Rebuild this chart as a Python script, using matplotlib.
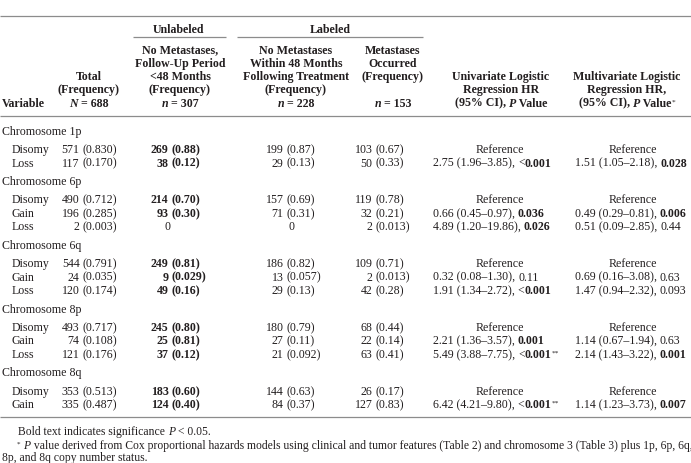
import matplotlib
matplotlib.use('Agg')
import matplotlib.pyplot as plt

FONT = 'Liberation Serif'
FS = 8.6
INK = '#231f20'
RULE = '#8c8c8c'

# ---------------- data ----------------
chromosomes = ["Chromosome 1p", "Chromosome 6p", "Chromosome 6q", "Chromosome 8p", "Chromosome 8q"]
status = [["Disomy", "Loss"], ["Disomy", "Gain", "Loss"], ["Disomy", "Gain", "Loss"],
          ["Disomy", "Gain", "Loss"], ["Disomy", "Gain"]]
total_n = [[571, 117], [490, 196, 2], [544, 24, 120], [493, 74, 121], [353, 335]]
total_f = [["0.830", "0.170"], ["0.712", "0.285", "0.003"], ["0.791", "0.035", "0.174"],
           ["0.717", "0.108", "0.176"], ["0.513", "0.487"]]
unlab_n = [[269, 38], [214, 93, 0], [249, 9, 49], [245, 25, 37], [183, 124]]
unlab_f = [["0.88", "0.12"], ["0.70", "0.30", None], ["0.81", "0.029", "0.16"],
           ["0.80", "0.81", "0.12"], ["0.60", "0.40"]]
nomet_n = [[199, 29], [157, 71, 0], [186, 13, 29], [180, 27, 21], [144, 84]]
nomet_f = [["0.87", "0.13"], ["0.69", "0.31", None], ["0.82", "0.057", "0.13"],
           ["0.79", "0.11", "0.092"], ["0.63", "0.37"]]
met_n = [[103, 50], [119, 32, 2], [109, 2, 42], [68, 22, 63], [26, 127]]
met_f = [["0.67", "0.33"], ["0.78", "0.21", "0.013"], ["0.71", "0.013", "0.28"],
         ["0.44", "0.14", "0.41"], ["0.17", "0.83"]]
uni_hr = [[None, "2.75"], [None, "0.66", "4.89"], [None, "0.32", "1.91"], [None, "2.21", "5.49"], [None, "6.42"]]
uni_ci = [[None, "1.96–3.85"], [None, "0.45–0.97", "1.20–19.86"], [None, "0.08–1.30", "1.34–2.72"],
          [None, "1.36–3.57", "3.88–7.75"], [None, "4.21–9.80"]]
uni_p = [[None, "<0.001"], [None, "0.036", "0.026"], [None, "0.11", "<0.001"],
         [None, "0.001", "<0.001**"], [None, "<0.001**"]]
multi_hr = [[None, "1.51"], [None, "0.49", "0.51"], [None, "0.69", "1.47"], [None, "1.14", "2.14"], [None, "1.14"]]
multi_ci = [[None, "1.05–2.18"], [None, "0.29–0.81", "0.09–2.85"], [None, "0.16–3.08", "0.94–2.32"],
            [None, "0.67–1.94", "1.43–3.22"], [None, "1.23–3.73"]]
multi_p = [[None, "0.028"], [None, "0.006", "0.44"], [None, "0.63", "0.093"],
           [None, "0.63", "0.001"], [None, "0.007"]]
group_counts = ["688", "307", "228", "153"]

# ---------------- canvas ----------------
W, H = 691, 464
fig = plt.figure(figsize=(W / 100, H / 100), dpi=100)
ax = fig.add_axes([0, 0, 1, 1])
ax.set_xlim(0, W)
ax.set_ylim(H, 0)
ax.axis('off')
fig.canvas.draw()
R = fig.canvas.get_renderer()


def _props(fmt, fs):
    size = fs * (0.62 if 's' in fmt else 1.0)
    return dict(fontfamily=FONT, fontsize=size,
                fontweight='bold' if 'b' in fmt else 'normal',
                fontstyle='italic' if 'i' in fmt else 'normal')


def _width(s, fmt, fs):
    t = ax.text(0, 0, '|' + s + '|', **_props(fmt, fs))
    w1 = t.get_window_extent(R).width
    t.set_text('||')
    w2 = t.get_window_extent(R).width
    t.remove()
    return w1 - w2


def runs(x, yc, parts, ha='left', fs=FS):
    """Draw a line of mixed-format text; yc is visual centre of the line."""
    widths = [_width(s, f, fs) for s, f in parts]
    total = sum(widths)
    if ha == 'center':
        x0 = x - total / 2
    elif ha == 'right':
        x0 = x - total
    else:
        x0 = x
    base = yc + 3.6
    for (s, f), w in zip(parts, widths):
        dy = -3.3 if 's' in f else 0
        ax.text(x0, base + dy, s, color=INK, va='baseline', ha='left', **_props(f, fs))
        x0 += w
    return total


def rule(y, x0=0, x1=W, lw=0.9):
    ax.plot([x0, x1], [y, y], color=RULE, lw=lw, solid_capstyle='butt')


# ---------------- header ----------------
rule(17)
runs(179, 29, [("Unlabeled", 'b')], 'center')
runs(330, 29, [("Labeled", 'b')], 'center')
rule(38, 133, 226, 0.9)
rule(38, 237, 423, 0.9)

LS = 13.3
hy = [50, 50 + LS, 50 + 2 * LS, 50 + 3 * LS, 103]

runs(2, hy[4], [("Variable", 'b')])
runs(89, hy[2], [("Total", 'b')], 'center')
runs(89, hy[3], [("(Frequency)", 'b')], 'center')
runs(89, hy[4], [("N", 'bi'), (" = " + group_counts[0], 'b')], 'center')

for i, line in enumerate(["No Metastases,", "Follow-Up Period", "<48 Months", "(Frequency)"]):
    runs(180, hy[i], [(line, 'b')], 'center')
runs(180, hy[4], [("n", 'bi'), (" = " + group_counts[1], 'b')], 'center')

for i, line in enumerate(["No Metastases", "Within 48 Months", "Following Treatment", "(Frequency)"]):
    runs(296, hy[i], [(line, 'b')], 'center')
runs(296, hy[4], [("n", 'bi'), (" = " + group_counts[2], 'b')], 'center')

for i, line in enumerate(["Metastases", "Occurred", "(Frequency)"]):
    runs(393, hy[i], [(line, 'b')], 'center')
runs(393, hy[4], [("n", 'bi'), (" = " + group_counts[3], 'b')], 'center')

runs(501, hy[2], [("Univariate Logistic", 'b')], 'center')
runs(501, hy[3], [("Regression HR", 'b')], 'center')
runs(501, hy[4], [("(95% CI), ", 'b'), ("P", 'bi'), (" Value", 'b')], 'center')

runs(627, hy[2], [("Multivariate Logistic", 'b')], 'center')
runs(627, hy[3], [("Regression HR,", 'b')], 'center')
runs(627, hy[4], [("(95% CI), ", 'b'), ("P", 'bi'), (" Value", 'b'), ("*", 's')], 'center')

rule(117)

# ---------------- body ----------------
GAP = 3.4
paren_x = {'total': 83, 'unlab': 172, 'nomet': 287, 'met': 376}
zero_x = {'unlab': 168, 'nomet': 292}
UNI_L, UNI_REF = 433, 500
MUL_L, MUL_REF = 575, 633


def freq_cell(col, n, f, fmt=''):
    if f is None:
        runs(zero_x[col], y, [(str(n), '')], 'center')
        return
    px = paren_x[col]
    runs(px - GAP, y, [(str(n), fmt)], 'right')
    runs(px, y, [("(" + f + ")", fmt)], 'left')


def hr_cell(xl, xref, hr, ci, p):
    if hr is None:
        runs(xref, y, [("Reference", '')], 'center')
        return
    core = p.rstrip('*')
    stars = p[len(core):]
    sig = float(core.lstrip('<')) < 0.05
    parts = [(hr + " (" + ci + "), ", '')]
    if core.startswith('<'):
        parts.append(("<", ''))
        core = core[1:]
    parts.append((core, 'b' if sig else ''))
    if stars:
        parts.append((stars, 's'))
    runs(xl, y, parts, 'left')


y = 131.0
for g, chrom in enumerate(chromosomes):
    runs(2, y, [(chrom, '')])
    y += 18.5
    for k, st in enumerate(status[g]):
        runs(12, y, [(st, '')])
        freq_cell('total', total_n[g][k], total_f[g][k])
        freq_cell('unlab', unlab_n[g][k], unlab_f[g][k], 'b')
        freq_cell('nomet', nomet_n[g][k], nomet_f[g][k])
        freq_cell('met', met_n[g][k], met_f[g][k])
        hr_cell(UNI_L, UNI_REF, uni_hr[g][k], uni_ci[g][k], uni_p[g][k])
        hr_cell(MUL_L, MUL_REF, multi_hr[g][k], multi_ci[g][k], multi_p[g][k])
        if k < len(status[g]) - 1:
            y += 13.5
    y += 18.3

rule(418)

# ---------------- footnotes ----------------
FN = 8.35
runs(18, 431.5, [("Bold text indicates significance ", ''), ("P", 'i'), (" < 0.05.", '')], fs=FN)
runs(17, 445, [("*", 's'), (" ", ''), ("P", 'i'),
               (" value derived from Cox proportional hazards models using clinical and tumor features "
                "(Table 2) and chromosome 3 (Table 3) plus 1p, 6p, 6q,", '')], fs=FN)
runs(2, 457.5, [("8p, and 8q copy number status.", '')], fs=FN)

fig.savefig('out.png', dpi=100)
